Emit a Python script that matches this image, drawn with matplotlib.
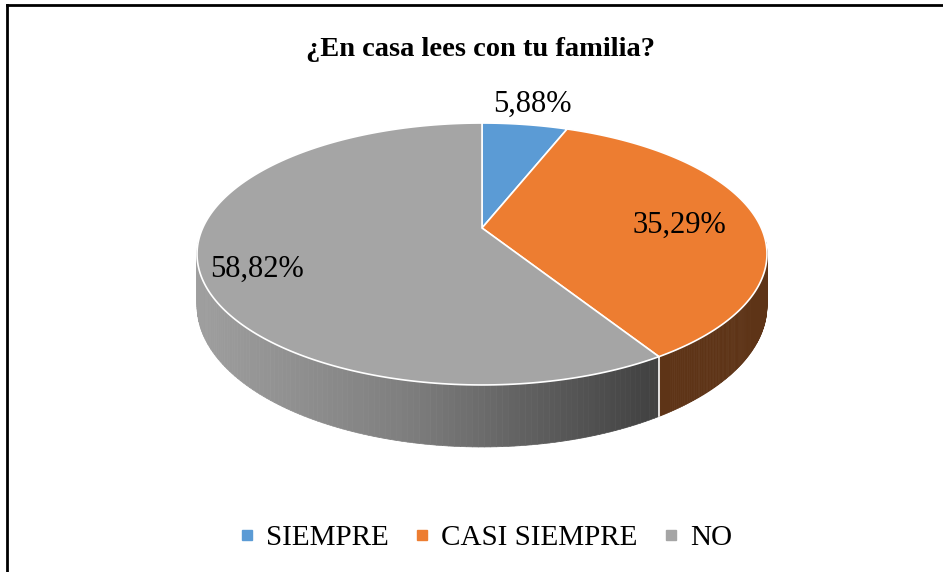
import matplotlib.pyplot as plt
import numpy as np
from matplotlib.collections import PolyCollection
from matplotlib.lines import Line2D

# datos del grafico
categorias = ['SIEMPRE', 'CASI SIEMPRE', 'NO']
porcentajes = [5.88, 35.29, 58.82]
etiquetas = ['5,88%', '35,29%', '58,82%']
titulo = '¿En casa lees con tu familia?'

color_arriba = ['#5B9BD5', '#ED7D31', '#A5A5A5']
color_lado = ['#2E5A86', '#5E3417', None]  # el gris va con degradado

plt.rcParams['font.family'] = ['Liberation Serif', 'DejaVu Serif']

# geometria del pastel en pixeles (perspectiva simple)
cx, cy = 482, 228
A, B, k = 279.3, 125.8, 0.1985
prof = 49.7


def proyectar(th, r=1.0, abajo=False):
    # th en grados, sentido horario desde arriba
    t = np.radians(th)
    u = r * np.sin(t)
    v = r * np.cos(t)
    w = 1 + k * v
    x = cx + A * u / w
    y = cy - B * v / w
    if abajo:
        y = y + prof / w
    return x, y


def gris_lado(x):
    return np.interp(x, [200, 400, 650], [0.62, 0.50, 0.26])


fig = plt.figure(figsize=(9.43, 5.72), dpi=100)
ax = fig.add_axes([0, 0, 1, 1])
ax.set_xlim(0, 943)
ax.set_ylim(572, 0)
ax.axis('off')

total = sum(porcentajes)
cortes = np.concatenate([[0], np.cumsum(porcentajes) / total * 360])

# caras laterales (solo la parte de enfrente)
for i in range(len(porcentajes)):
    a0 = max(cortes[i], 95)
    a1 = min(cortes[i + 1], 265)
    if a1 <= a0:
        continue
    ths = np.linspace(a0, a1, 120)
    quads = []
    cols = []
    for j in range(len(ths) - 1):
        x0, y0 = proyectar(ths[j])
        x1, y1 = proyectar(ths[j + 1])
        x0b, y0b = proyectar(ths[j], abajo=True)
        x1b, y1b = proyectar(ths[j + 1], abajo=True)
        quads.append([(x0, y0), (x1, y1), (x1b, y1b), (x0b, y0b)])
        if color_lado[i] is None:
            g = gris_lado((x0 + x1) / 2)
            cols.append((g, g, g))
        else:
            cols.append(color_lado[i])
    pc = PolyCollection(quads, facecolors=cols, edgecolors=cols, linewidths=0.5)
    ax.add_collection(pc)
    # borde blanco vertical donde empieza el sector
    if cortes[i] >= 95:
        xa, ya = proyectar(cortes[i])
        xb, yb = proyectar(cortes[i], abajo=True)
        ax.plot([xa, xb], [ya, yb], color='white', lw=1.2)

# caras de arriba
for i in range(len(porcentajes)):
    ths = np.linspace(cortes[i], cortes[i + 1], 200)
    xs, ys = proyectar(ths)
    pts = [(cx, cy)] + list(zip(xs, ys))
    ax.fill([p[0] for p in pts], [p[1] for p in pts], facecolor=color_arriba[i],
            edgecolor='white', linewidth=1.2)

# etiquetas de datos
label_r = [1.2, 0.72, 0.80]
label_dy = [-3, 6, 13]
for i in range(len(porcentajes)):
    mid = (cortes[i] + cortes[i + 1]) / 2
    lx, ly = proyectar(mid, label_r[i])
    ax.text(lx, ly + label_dy[i], etiquetas[i], fontsize=22, ha='center', va='center')

ax.text(481, 49, titulo, fontsize=20.5, fontweight='bold', ha='center', va='center')

# marco
ax.plot([7, 7], [5, 572], color='black', lw=2)
ax.plot([7, 943], [5, 5], color='black', lw=2)

handles = [Line2D([], [], marker='s', linestyle='none', markersize=7,
                  markerfacecolor=c, markeredgecolor=c) for c in color_arriba]
fig.legend(handles, categorias, loc='center', bbox_to_anchor=(486 / 943, 1 - 538 / 572),
           ncol=3, frameon=False, fontsize=21, handlelength=0.5, handletextpad=0.4,
           columnspacing=0.9)

plt.savefig('out.png', dpi=100)
